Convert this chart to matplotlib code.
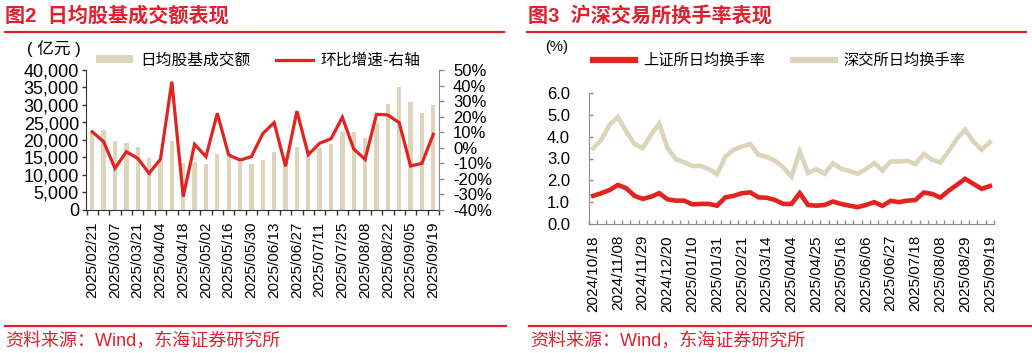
import numpy as np
import matplotlib
matplotlib.use("Agg")
import matplotlib.pyplot as plt
from matplotlib.lines import Line2D
from matplotlib.patches import Patch

plt.rcParams['font.family'] = ['Liberation Sans', 'Noto Sans CJK SC', 'DejaVu Sans']

# ---------------- data: chart 1 ----------------
weeks1_labels = ["2025/02/21", "2025/03/07", "2025/03/21", "2025/04/04", "2025/04/18",
                 "2025/05/02", "2025/05/16", "2025/05/30", "2025/06/13", "2025/06/27",
                 "2025/07/11", "2025/07/25", "2025/08/08", "2025/08/22", "2025/09/05",
                 "2025/09/19"]
turnover = [22200, 22860, 19800, 19240, 18000, 14950, 14000, 19800, 13520, 13800,
            13050, 15900, 15240, 13800, 13140, 14300, 16500, 14550, 17950, 17200,
            17700, 18750, 22400, 22200, 20700, 24950, 30300, 35000, 30900, 27800,
            30000]
mom_pct = [10.3, 3.9, -13.2, -2.5, -6.8, -16.4, -7.4, 42.5, -31.4, 2.3,
           -5.7, 22.2, -4.6, -7.9, -5.7, 9.1, 16.2, -11.9, 23.6, -4.4,
           2.9, 5.8, 19.6, -0.8, -7.4, 21.5, 21.1, 16.1, -11.7, -10.0,
           8.7]
left_ticks = [0, 5000, 10000, 15000, 20000, 25000, 30000, 35000, 40000]
left_tick_labels = ["0", "5,000", "10,000", "15,000", "20,000", "25,000", "30,000", "35,000", "40,000"]
right_ticks = [-40, -30, -20, -10, 0, 10, 20, 30, 40, 50]
right_tick_labels = ["-40%", "-30%", "-20%", "-10%", "0%", "10%", "20%", "30%", "40%", "50%"]

# ---------------- data: chart 2 ----------------
weeks2_labels = ["2024/10/18", "2024/11/08", "2024/11/29", "2024/12/20", "2025/01/10",
                 "2025/01/31", "2025/02/21", "2025/03/14", "2025/04/04", "2025/04/25",
                 "2025/05/16", "2025/06/06", "2025/06/27", "2025/07/18", "2025/08/08",
                 "2025/08/29", "2025/09/19"]
sh_turnover = [1.29, 1.41, 1.56, 1.79, 1.64, 1.29, 1.15, 1.25, 1.41, 1.13,
               1.07, 1.07, 0.90, 0.92, 0.92, 0.84, 1.22, 1.29, 1.41, 1.45,
               1.22, 1.20, 1.10, 0.92, 0.92, 1.41, 0.87, 0.84, 0.87, 1.03,
               0.92, 0.84, 0.77, 0.87, 1.00, 0.83, 1.06, 1.00, 1.07, 1.10,
               1.44, 1.38, 1.21, 1.52, 1.79, 2.07, 1.84, 1.61, 1.74]
sz_turnover = [3.47, 3.86, 4.55, 4.90, 4.24, 3.67, 3.47, 4.09, 4.59, 3.47,
               2.97, 2.83, 2.66, 2.66, 2.51, 2.28, 3.09, 3.40, 3.55, 3.66,
               3.17, 3.07, 2.90, 2.60, 2.17, 3.32, 2.33, 2.51, 2.30, 2.79,
               2.53, 2.43, 2.30, 2.51, 2.79, 2.45, 2.86, 2.86, 2.89, 2.75,
               3.21, 2.94, 2.82, 3.32, 3.90, 4.32, 3.78, 3.40, 3.75]
y2_ticks = [0, 1, 2, 3, 4, 5, 6]
y2_tick_labels = ["0.0", "1.0", "2.0", "3.0", "4.0", "5.0", "6.0"]

RED = "#E3231F"
TITLE_RED = "#E0202E"
BEIGE = "#DDD4BC"
GRAY = "#8C8C8C"

W, H = 1032, 353
fig = plt.figure(figsize=(W / 100, H / 100), dpi=100)


def fx(px):
    return px / W


def fy(py):
    return 1 - py / H


# ---------------- titles and rules ----------------
fig.text(fx(5), fy(16), "图2  日均股基成交额表现", color=TITLE_RED, fontsize=14.5,
         fontweight='bold', va='center', ha='left')
fig.text(fx(528), fy(16), "图3  沪深交易所换手率表现", color=TITLE_RED, fontsize=14.5,
         fontweight='bold', va='center', ha='left')
for x0, x1 in [(5, 504), (527, 1026)]:
    fig.add_artist(Line2D([fx(x0), fx(x1)], [fy(32), fy(32)], color=TITLE_RED, lw=1.6))
for x0, x1 in [(5, 506), (529, 1031)]:
    fig.add_artist(Line2D([fx(x0), fx(x1)], [fy(326), fy(326)], color=TITLE_RED, lw=1.6))
fig.text(fx(5), fy(341), "资料来源：Wind，东海证券研究所", color=TITLE_RED, fontsize=13,
         va='center', ha='left')
fig.text(fx(530), fy(341), "资料来源：Wind，东海证券研究所", color=TITLE_RED, fontsize=13,
         va='center', ha='left')

# ---------------- chart 1 ----------------
ax1 = fig.add_axes([fx(86), fy(210), fx(439) - fx(86), fy(70) - fy(210)])
ax1r = ax1.twinx()
n1 = len(turnover)
x1 = np.arange(n1)
ax1.bar(x1, turnover, width=0.38, color=BEIGE, zorder=2)
ax1r.plot(x1, mom_pct, color=RED, lw=2.3, solid_joinstyle='miter', zorder=3)
ax1.set_xlim(-0.55, n1 - 0.5)
ax1.set_ylim(0, 40000)
ax1r.set_ylim(-40, 50)
ax1.set_yticks(left_ticks)
ax1.set_yticklabels(left_tick_labels)
ax1r.set_yticks(right_ticks)
ax1r.set_yticklabels(right_tick_labels)
ax1.set_xticks(np.arange(-0.5, n1, 1.0))
ax1.set_xticklabels([])
ax1.set_xticks(np.arange(0, n1, 2), minor=True)
ax1.set_xticklabels(weeks1_labels, minor=True, rotation=90)
ax1.tick_params(axis='x', which='major', direction='out', length=3.6, width=1, color='#333333')
ax1.tick_params(axis='x', which='minor', length=0, pad=8.5, labelsize=11)
ax1.tick_params(axis='y', direction='out', length=2.9, width=1, color='#333333', pad=2.2,
                labelsize=13)
ax1r.tick_params(axis='y', direction='out', length=3.6, width=1, color=GRAY, pad=6.5,
                 labelsize=12)
for s in ['top', 'right']:
    ax1.spines[s].set_visible(False)
ax1r.spines['top'].set_visible(False)
ax1r.spines['left'].set_visible(False)
ax1r.spines['bottom'].set_visible(False)
ax1r.spines['right'].set_color(GRAY)
ax1.spines['left'].set_color('#333333')
ax1.spines['bottom'].set_color('#333333')
ax1.set_zorder(ax1r.get_zorder() - 1)
ax1r.patch.set_visible(False)

fig.text(fx(27), fy(49), "( 亿元 )", fontsize=12, va='center', ha='left')
h1 = [Patch(facecolor=BEIGE, edgecolor='none'), Line2D([], [], color=RED, lw=2.3)]
ax1r.legend(h1, ["日均股基成交额", "环比增速-右轴"], loc='center left',
            bbox_to_anchor=(fx(96), fy(60)), bbox_transform=fig.transFigure, ncol=2,
            frameon=False, fontsize=11.3, handlelength=2.36, handleheight=0.45,
            handletextpad=0.45, columnspacing=1.66, borderpad=0, borderaxespad=0)

# ---------------- chart 2 ----------------
ax2 = fig.add_axes([fx(589), fy(224), fx(994) - fx(589), fy(93) - fy(224)])
n2 = len(sh_turnover)
x2 = np.arange(n2)
ax2.plot(x2, sz_turnover, color=BEIGE, lw=3.3, solid_joinstyle='miter', zorder=2)
ax2.plot(x2, sh_turnover, color=RED, lw=3.3, solid_joinstyle='miter', zorder=3)
ax2.set_xlim(-0.5, n2 - 0.5)
ax2.set_ylim(0, 6)
ax2.set_yticks(y2_ticks)
ax2.set_yticklabels(y2_tick_labels)
ax2.set_xticks(np.arange(-0.5, n2, 1.0))
ax2.set_xticklabels([])
ax2.set_xticks(np.arange(0, n2, 3), minor=True)
ax2.set_xticklabels(weeks2_labels, minor=True, rotation=90)
ax2.tick_params(axis='x', which='major', direction='in', length=3, width=1, color=GRAY)
ax2.tick_params(axis='x', which='minor', length=0, pad=8, labelsize=11)
ax2.tick_params(axis='y', direction='in', length=3, width=1, color=GRAY, pad=13.7,
                labelsize=12)
for s in ['top', 'right']:
    ax2.spines[s].set_visible(False)
ax2.spines['left'].set_color(GRAY)
ax2.spines['bottom'].set_color(GRAY)

fig.text(fx(545), fy(47), "(%)", fontsize=10.6, va='center', ha='left')
h2 = [Line2D([], [], color=RED, lw=4.5), Line2D([], [], color=BEIGE, lw=4.5)]
ax2.legend(h2, ["上证所日均换手率", "深交所日均换手率"], loc='center left',
           bbox_to_anchor=(fx(593), fy(61)), bbox_transform=fig.transFigure, ncol=2,
           frameon=False, fontsize=11, handlelength=2.75, handletextpad=0.55,
           columnspacing=1.8, borderpad=0, borderaxespad=0)

fig.savefig("out.png", dpi=100)
